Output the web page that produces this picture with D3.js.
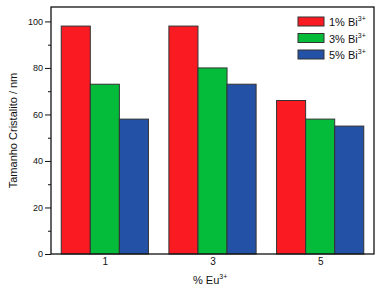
<!DOCTYPE html>
<html>
<head>
<meta charset="utf-8">
<script src="https://cdn.jsdelivr.net/npm/d3@7"></script>
<style>
  body { margin: 0; background: #fff; }
  svg text { font-family: "Liberation Sans", Arial, sans-serif; fill: #111; }
</style>
</head>
<body>
<div id="chart"></div>
<script>
const categories = [1, 3, 5];
const seriesNames = ["1%", "3%", "5%"];
const bi1 = [98, 98, 66];
const bi3 = [73, 80, 58];
const bi5 = [58, 73, 55];
const colors = ["#fa1a22", "#04bc3a", "#2351a6"];

const series = [bi1, bi3, bi5];

const W = 382, H = 294;
const margin = {top: 7, right: 8, bottom: 40, left: 51};
const width = W - margin.left - margin.right;
const height = H - margin.top - margin.bottom;

const svg = d3.select("#chart").append("svg")
    .attr("width", W).attr("height", H);

const g = svg.append("g")
    .attr("transform", "translate(" + margin.left + "," + margin.top + ")");

const x = d3.scaleLinear().domain([0, 6]).range([0, width]);
const y = d3.scaleLinear().domain([0, 106.2]).range([height, 0]);

// sub-scale for bars within a group
const groupW = x(1.62) - x(0);
const xSub = d3.scaleBand().domain(d3.range(series.length)).range([-groupW / 2, groupW / 2]);

series.forEach((vals, i) => {
    g.selectAll(".bar" + i)
        .data(vals)
        .enter().append("rect")
        .attr("x", (d, j) => x(categories[j]) + xSub(i))
        .attr("y", d => y(d))
        .attr("width", xSub.bandwidth())
        .attr("height", d => y(0) - y(d))
        .attr("fill", colors[i])
        .attr("stroke", "#333")
        .attr("stroke-width", 1);
});

// y axis with minor ticks
const yAxis = g.append("g")
    .call(d3.axisLeft(y).tickValues(d3.range(0, 101, 10)).tickSize(5)
        .tickFormat(d => d % 20 === 0 ? d : ""));
yAxis.select(".domain").remove();
yAxis.selectAll(".tick line").attr("x2", d => d % 20 === 0 ? -6 : -3).attr("stroke", "#111");
yAxis.selectAll("text").attr("font-size", 9).attr("x", -8);

// x labels (no ticks)
const xAxis = g.append("g")
    .attr("transform", "translate(0," + height + ")")
    .call(d3.axisBottom(x).tickValues(categories).tickSize(0).tickPadding(4)
        .tickFormat(d3.format("d")));
xAxis.select(".domain").remove();
xAxis.selectAll("text").attr("font-size", 10);

// frame
g.append("rect")
    .attr("width", width).attr("height", height)
    .attr("fill", "none").attr("stroke", "#111").attr("stroke-width", 1.3);

// axis titles
svg.append("text")
    .attr("transform", "translate(17," + (margin.top + height / 2) + ") rotate(-90)")
    .attr("text-anchor", "middle")
    .attr("font-size", 11)
    .text("Tamanho Cristalito / nm");

const xt = svg.append("text")
    .attr("x", 193).attr("y", 284)
    .attr("font-size", 11);
xt.append("tspan").text("% Eu");
xt.append("tspan").attr("dy", -5).attr("font-size", 7).text("3+");

// legend
const legend = svg.append("g").attr("transform", "translate(298,17)");
seriesNames.forEach((name, i) => {
    const row = legend.append("g").attr("transform", "translate(0," + (i * 16.5) + ")");
    row.append("rect")
        .attr("width", 26).attr("height", 9)
        .attr("fill", colors[i]).attr("stroke", "#333");
    const t = row.append("text").attr("x", 31).attr("y", 9).attr("font-size", 11);
    t.append("tspan").text(name + " Bi");
    t.append("tspan").attr("dy", -5).attr("font-size", 7).text("3+");
});
</script>
</body>
</html>
